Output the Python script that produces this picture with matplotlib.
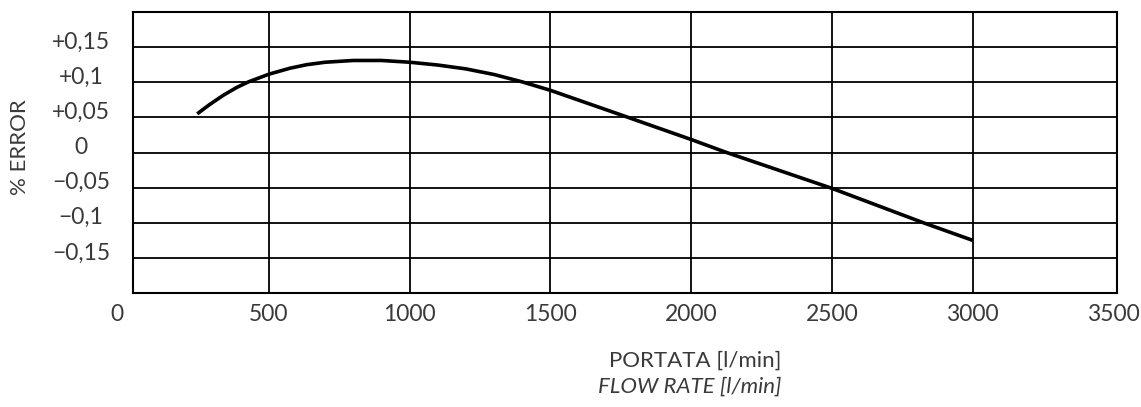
import numpy as np
import matplotlib
matplotlib.use("Agg")
import matplotlib.pyplot as plt

# Dati
portata = [245, 290, 338, 385, 427, 500, 575, 634, 700, 800, 900, 1000, 1100, 1200,
           1300, 1400, 1500, 1776, 2000, 2126, 2500, 2825, 3000]
errore = [0.055, 0.0685, 0.0815, 0.0925, 0.1005, 0.1115, 0.120, 0.125, 0.1285, 0.131,
          0.131, 0.1285, 0.1245, 0.119, 0.111, 0.1005, 0.0885, 0.050, 0.0185, 0.0,
          -0.051, -0.100, -0.125]

x_ticks = [0, 500, 1000, 1500, 2000, 2500, 3000, 3500]
y_ticks = [0.15, 0.10, 0.05, 0.0, -0.05, -0.10, -0.15]
y_labels = ['+0,15', '+0,1', '+0,05', '0', '\u22120,05', '\u22120,1', '\u22120,15']

plt.rcParams['font.family'] = ['Lato', 'DejaVu Sans']
testo = '#3a3a3a'

fig = plt.figure(figsize=(11.41, 4.07), dpi=100)
ax = fig.add_axes([133/1141, 1-293/407, 984/1141, 281/407])

ax.plot(portata, errore, color='black', lw=2.6, solid_capstyle='butt',
        solid_joinstyle='round')

ax.set_xlim(17, 3513)
ax.set_ylim(-0.2, 0.2)
ax.set_xticks(x_ticks[1:-1])
ax.set_yticks(y_ticks)
ax.grid(True, color='black', lw=1.3)
ax.tick_params(length=0, labelbottom=False, labelleft=False)
for s in ax.spines.values():
    s.set_linewidth(1.5)

tx = ax.get_xaxis_transform()
for v in x_ticks:
    ax.text(v if v else -40, -0.078, str(v), transform=tx, ha='center', va='center',
            fontsize=16.5, color=testo, clip_on=False)

ty = ax.get_yaxis_transform()
for v, lab in zip(y_ticks, y_labels):
    ax.text(-0.053, v + 0.007, lab, transform=ty, ha='center', va='center',
            fontsize=16.5, color=testo, clip_on=False)

fig.text(20/1141, 1-147/407, '% ERROR', rotation=90, ha='center', va='center',
         fontsize=16, color=testo)
fig.text(695/1141, 1-361/407, 'PORTATA [l/min]', ha='center', va='center',
         fontsize=16, color=testo)
fig.text(690/1141, 1-387/407, 'FLOW RATE [l/min]', ha='center', va='center',
         fontsize=16, style='italic', color=testo)

fig.savefig('out.png', dpi=100)
